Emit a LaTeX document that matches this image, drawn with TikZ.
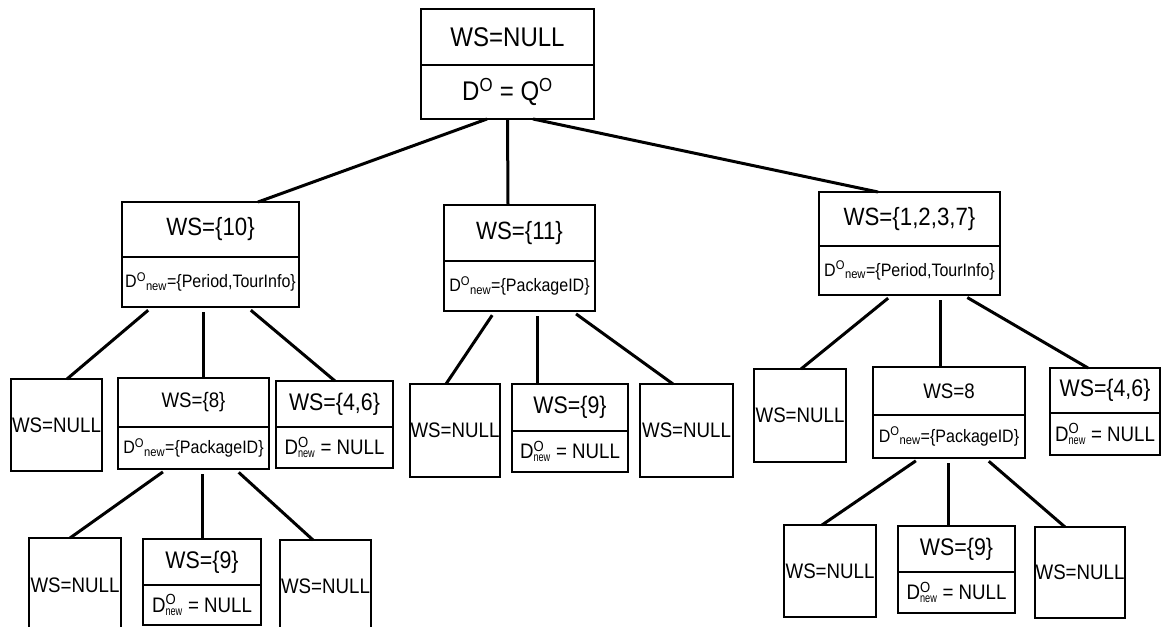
\documentclass[tikz,border=0pt]{standalone}
\usepackage{fontspec}
\setmainfont[FakeStretch=0.89]{Liberation Sans}
\usetikzlibrary{positioning}

\newcommand{\Dnew}{D\textsuperscript{O}\textsubscript{new}}
\newcommand{\Dnul}{D\rlap{\textsuperscript{O}}\textsubscript{\scalebox{0.7}[0.85]{new}}}

\tikzset{
  part/.style={draw, line width=1.6pt, inner sep=0pt, outer sep=0pt, align=center},
  leaf/.style={part, line width=1.4pt},
  link/.style={line width=3pt},
  gap/.style={link, shorten <=5pt},
  fbig/.style={font=\fontsize{27}{30}\selectfont},
  fmid/.style={font=\fontsize{25}{28}\selectfont},
  fsml/.style={font=\fontsize{18}{20}\selectfont},
  fleaf/.style={font=\fontsize{21}{24}\selectfont},
  fset/.style={font=\fontsize{24}{26}\selectfont},
}

\begin{document}
\begin{tikzpicture}[x=1pt, y=-1pt]
  \useasboundingbox (0,0) rectangle (1161,626);
  \clip (0,0) rectangle (1161,626);

  \node[part, fbig, minimum width=173pt, minimum height=56pt] (root) at (507.5,37) {WS=NULL};
  \node[part, fbig, minimum width=173pt, minimum height=54pt, below=0pt of root] (root-low) {D\textsuperscript{O} = Q\textsuperscript{O}};

  \node[part, fmid, minimum width=177pt, minimum height=55pt] (a) at (210.5,229.5) {WS=\{10\}};
  \node[part, fsml, minimum width=177pt, minimum height=50pt, below=0pt of a] (a-low) {\Dnew=\{Period,TourInfo\}};

  \node[part, fmid, minimum width=151pt, minimum height=56pt] (b) at (519.5,233) {WS=\{11\}};
  \node[part, fsml, minimum width=151pt, minimum height=50pt, below=0pt of b] (b-low) {\Dnew=\{PackageID\}};

  \node[part, fmid, minimum width=181pt, minimum height=54pt] (c) at (909.5,219) {WS=\{1,2,3,7\}};
  \node[part, fsml, minimum width=181pt, minimum height=49pt, below=0pt of c] (c-low) {\Dnew =\{Period,TourInfo\}};

  \node[leaf, fleaf, minimum width=91pt, minimum height=92pt] (a1) at (56.5,425) {WS=NULL};
  \node[leaf, fleaf, minimum width=151pt, minimum height=49pt] (a2) at (193.5,402.5) {WS=\{8\}};
  \node[leaf, fsml, minimum width=151pt, minimum height=42pt, below=0pt of a2] (a2-low) {\Dnew=\{PackageID\}};
  \node[leaf, fset, minimum width=117pt, minimum height=46pt] (a3) at (334.5,404) {WS=\{4,6\}};
  \node[leaf, fleaf, minimum width=117pt, minimum height=41pt, below=0pt of a3] (a3-low) {\Dnul\ = NULL};

  \node[leaf, fleaf, minimum width=90pt, minimum height=93pt] (b1) at (455,430.5) {WS=NULL};
  \node[leaf, fset, minimum width=116pt, minimum height=47pt] (b2) at (570,407.5) {WS=\{9\}};
  \node[leaf, fleaf, minimum width=116pt, minimum height=41pt, below=0pt of b2] (b2-low) {\Dnul\ = NULL};
  \node[leaf, fleaf, minimum width=93pt, minimum height=93pt] (b3) at (686.5,430.5) {WS=NULL};

  \node[leaf, fleaf, minimum width=92pt, minimum height=93pt] (c1) at (800,415.5) {WS=NULL};
  \node[leaf, fleaf, minimum width=152pt, minimum height=48pt] (c2) at (949,391) {WS=8};
  \node[leaf, fsml, minimum width=152pt, minimum height=43pt, below=0pt of c2] (c2-low) {\Dnew=\{PackageID\}};
  \node[leaf, fset, minimum width=110pt, minimum height=45pt] (c3) at (1105,390.5) {WS=\{4,6\}};
  \node[leaf, fleaf, minimum width=110pt, minimum height=42pt, below=0pt of c3] (c3-low) {\Dnul\ = NULL};

  \node[leaf, fleaf, minimum width=92pt, minimum height=94pt] (a21) at (75,585) {WS=NULL};
  \node[leaf, fset, minimum width=118pt, minimum height=46pt] (a22) at (202,562) {WS=\{9\}};
  \node[leaf, fleaf, minimum width=118pt, minimum height=40pt, below=0pt of a22] (a22-low) {\Dnul\ = NULL};
  \node[leaf, fleaf, minimum width=91pt, minimum height=92pt] (a23) at (325.5,586) {WS=NULL};

  \node[leaf, fleaf, minimum width=92pt, minimum height=92pt] (c21) at (830,571) {WS=NULL};
  \node[leaf, fset, minimum width=117pt, minimum height=46pt] (c22) at (956.5,549) {WS=\{9\}};
  \node[leaf, fleaf, minimum width=117pt, minimum height=41pt, below=0pt of c22] (c22-low) {\Dnul\ = NULL};
  \node[leaf, fleaf, minimum width=90pt, minimum height=91pt] (c23) at (1080,572.5) {WS=NULL};

  \draw[link] ([xshift=-20.5pt]root-low.south) -- ([xshift=47.5pt]a.north);
  \draw[link] (root-low.south) -- ([xshift=-11.5pt]b.north);
  \draw[link] ([xshift=25.5pt]root-low.south) -- ([xshift=-31.5pt]c.north);

  \draw[gap] ([xshift=-58.5pt]a-low.south) -- ([xshift=10.5pt]a1.north);
  \draw[gap] ([xshift=-7.5pt]a-low.south) -- ([xshift=9.5pt]a2.north);
  \draw[gap] ([xshift=36.5pt]a-low.south) -- ([xshift=0.5pt]a3.north);

  \draw[gap] ([xshift=-24.5pt]b-low.south) -- ([xshift=-9pt]b1.north);
  \draw[gap] ([xshift=17.5pt]b-low.south) -- ([xshift=-33pt]b2.north);
  \draw[gap] ([xshift=52.5pt]b-low.south) -- ([xshift=-13.5pt]b3.north);

  \draw[gap] ([xshift=-17.5pt]c-low.south) -- ([xshift=1pt]c1.north);
  \draw[gap] ([xshift=30.5pt]c-low.south) -- ([xshift=-9pt]c2.north);
  \draw[gap] ([xshift=53.5pt]c-low.south) -- ([xshift=-17pt]c3.north);

  \draw[gap] ([xshift=-26.5pt]a2-low.south) -- ([xshift=-5pt]a21.north);
  \draw[gap] ([xshift=8.5pt]a2-low.south) -- (a22.north);
  \draw[gap] ([xshift=41.5pt]a2-low.south) -- ([xshift=-12.5pt]a23.north);

  \draw[gap] ([xshift=-29pt]c2-low.south) -- ([xshift=-8pt]c21.north);
  \draw[gap] ([xshift=-1pt]c2-low.south) -- ([xshift=-8.5pt]c22.north);
  \draw[gap] ([xshift=36pt]c2-low.south) -- ([xshift=-15pt]c23.north);
\end{tikzpicture}
\end{document}
